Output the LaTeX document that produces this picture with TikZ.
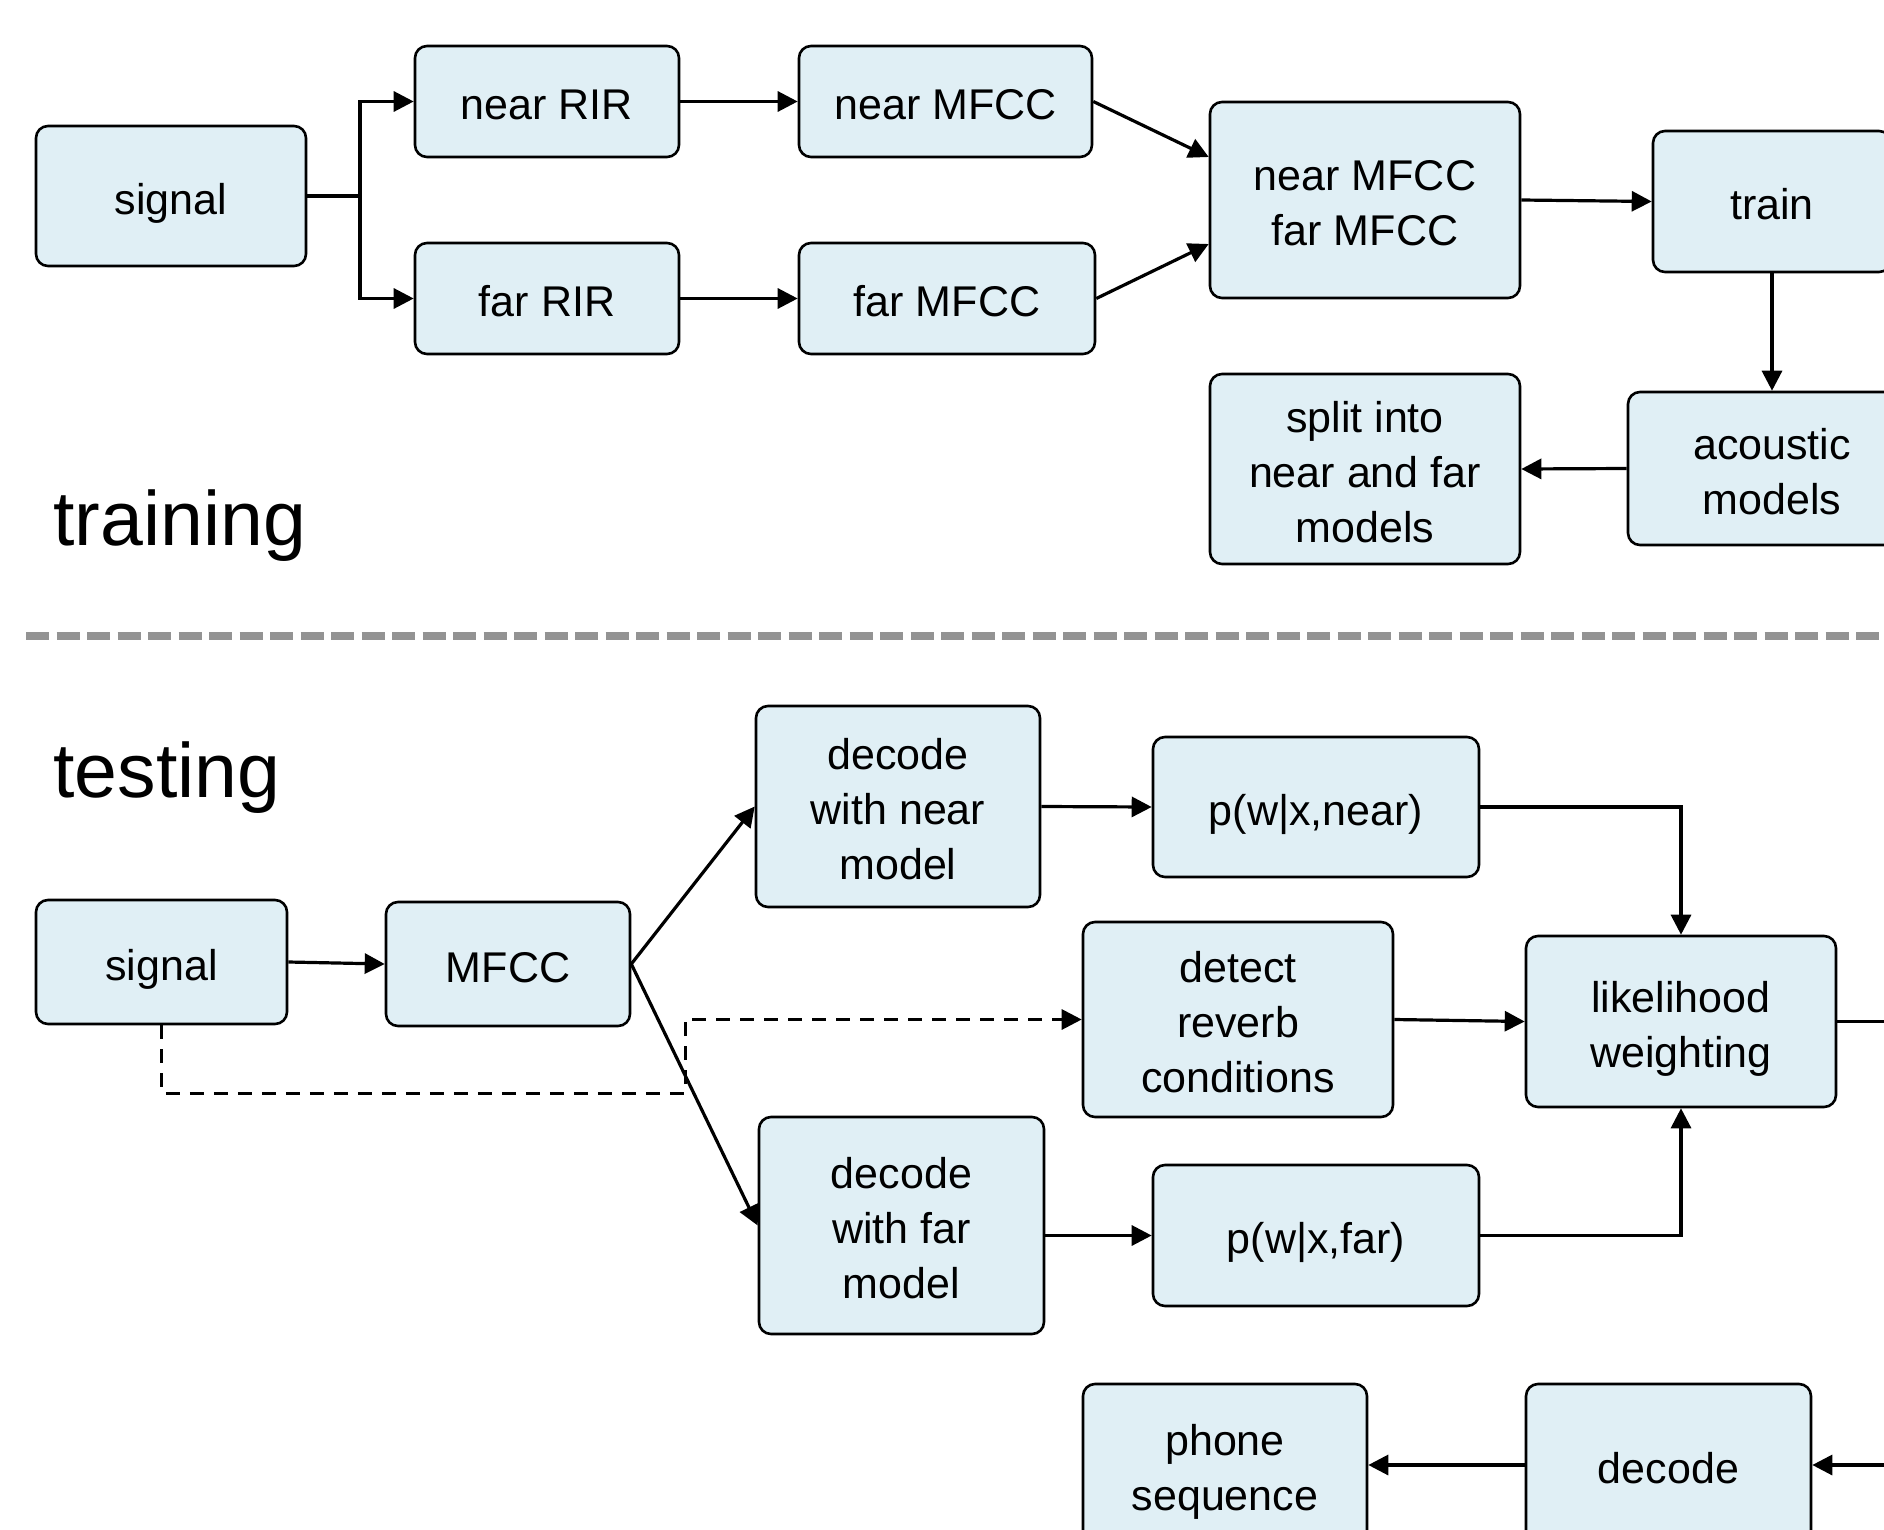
\documentclass[tikz,border=0pt]{standalone}
\usepackage{fontspec}
\setmainfont{Liberation Sans}
\usetikzlibrary{arrows.meta,calc}
\definecolor{boxfill}{HTML}{E0EFF5}
\definecolor{sepgray}{HTML}{939393}
\newcommand{\bxs}{\rule[-4.6pt]{0pt}{27.5pt}}
\tikzset{
  box/.style={draw=black, line width=1.3pt, fill=boxfill, rounded corners=6pt,
    align=center, inner sep=0pt, font=\fontsize{21.5}{27.5}\selectfont},
  conn/.style={line width=1.6pt, -{Triangle[length=10pt,width=10pt]}},
  plain/.style={line width=1.6pt},
  dconn/.style={line width=1.5pt, dash pattern=on 7pt off 5pt, -{Triangle[length=10pt,width=10pt]}},
  biglabel/.style={anchor=base west, inner sep=0pt, font=\fontsize{38.5}{42}\selectfont},
}
\begin{document}
\begin{tikzpicture}[x=0.5pt,y=-0.5pt]
\useasboundingbox (0,0) rectangle (1884,1530);
\clip (0,0) rectangle (1884,1530);
% training
\node[box, minimum width=135pt, minimum height=70pt] (sig1) at (171,196) {signal\bxs};
\node[box, minimum width=132pt, minimum height=55.5pt] (nrir) at (547,101.5) {near RIR\bxs};
\node[box, minimum width=132pt, minimum height=55.5pt] (frir) at (547,298.5) {far RIR\bxs};
\node[box, minimum width=146.5pt, minimum height=55.5pt] (nmfcc) at (945.5,101.5) {near MFCC\bxs};
\node[box, minimum width=148pt, minimum height=55.5pt] (fmfcc) at (947,298.5) {far MFCC\bxs};
\node[box, minimum width=155pt, minimum height=98pt] (combo) at (1365,200) {near MFCC\bxs\\far MFCC\bxs};
\node[box, minimum width=119pt, minimum height=70.5pt] (train) at (1772,201.5) {train\bxs};
\node[box, minimum width=144pt, minimum height=76.5pt] (acou) at (1772,468.5) {acoustic\bxs\\models\bxs};
\node[box, minimum width=155pt, minimum height=95pt] (split) at (1365,469) {split into\bxs\\near and far\bxs\\models\bxs};
\node[biglabel] (ltrain) at (53,545) {training};

\coordinate (j1) at (360,196);
\draw[plain] (sig1.east) -- (j1);
\draw[conn] (j1) |- (nrir.west);
\draw[conn] (j1) |- (frir.west);
\draw[conn] (nrir) -- (nmfcc);
\draw[conn] (frir) -- (fmfcc);
\draw[conn] (nmfcc.east) -- ([yshift=21.5pt]combo.west);
\draw[conn] (fmfcc.east) -- ([yshift=-22pt]combo.west);
\draw[conn] (combo.east) -- (train.west);
\draw[conn] (train.south) -- (acou.north);
\draw[conn] (acou.west) -- (split.east);

% separator
\coordinate (sepA) at (26,636);
\coordinate (sepB) at (1900,636);
\draw[sepgray, line width=4pt, dash pattern=on 11.5pt off 3.75pt] (sepA) -- (sepB);

% testing
\node[biglabel] (ltest) at (53,797) {testing};
\node[box, minimum width=125.5pt, minimum height=62pt] (sig2) at (161.5,962) {signal\bxs};
\node[box, minimum width=122pt, minimum height=62pt] (mfcc) at (508,964) {MFCC\bxs};
\node[box, minimum width=142pt, minimum height=100.5pt] (dnear) at (898,806.5) {decode\bxs\\with near\bxs\\model\bxs};
\node[box, minimum width=163pt, minimum height=70pt] (pnear) at (1316,807) {p(w|x,near)\bxs};
\node[box, minimum width=155pt, minimum height=97.5pt] (detect) at (1238,1019.5) {detect\bxs\\reverb\bxs\\conditions\bxs};
\node[box, minimum width=155pt, minimum height=85.5pt] (lik) at (1681,1021.5) {likelihood\bxs\\weighting\bxs};
\node[box, minimum width=142.5pt, minimum height=108.5pt] (dfar) at (901.5,1225.5) {decode\bxs\\with far\bxs\\model\bxs};
\node[box, minimum width=163pt, minimum height=70.5pt] (pfar) at (1316,1235.5) {p(w|x,far)\bxs};
\node[box, minimum width=142.5pt, minimum height=81pt] (dec) at (1668.5,1465) {decode\bxs};
\node[box, minimum width=142pt, minimum height=81pt] (phone) at (1225,1465) {phone\bxs\\sequence\bxs};

\draw[conn] (sig2.east) -- (mfcc.west);
\draw[conn] (mfcc.east) -- (dnear.west);
\draw[conn] (mfcc.east) -- (dfar.west);
\coordinate (d1) at (161.5,1093);
\coordinate (d2) at (685,1093);
\coordinate (d3) at (685,1019.5);
\draw[dconn] (sig2.south) -- (d1) -- (d2) -- (d3) -- (detect.west);
\draw[conn] (dnear.east) -- (pnear.west);
\draw[conn] (pfar.west -| dfar.east) -- (pfar.west);
\draw[conn] (pnear.east) -| (lik.north);
\draw[conn] (pfar.east) -| (lik.south);
\draw[conn] (detect.east) -- (lik.west);
\coordinate (r1) at (1950,1021.5);
\draw[conn] (lik.east) -- (r1) |- (dec.east);
\draw[conn] (dec.west) -- (phone.east);
\end{tikzpicture}
\end{document}
